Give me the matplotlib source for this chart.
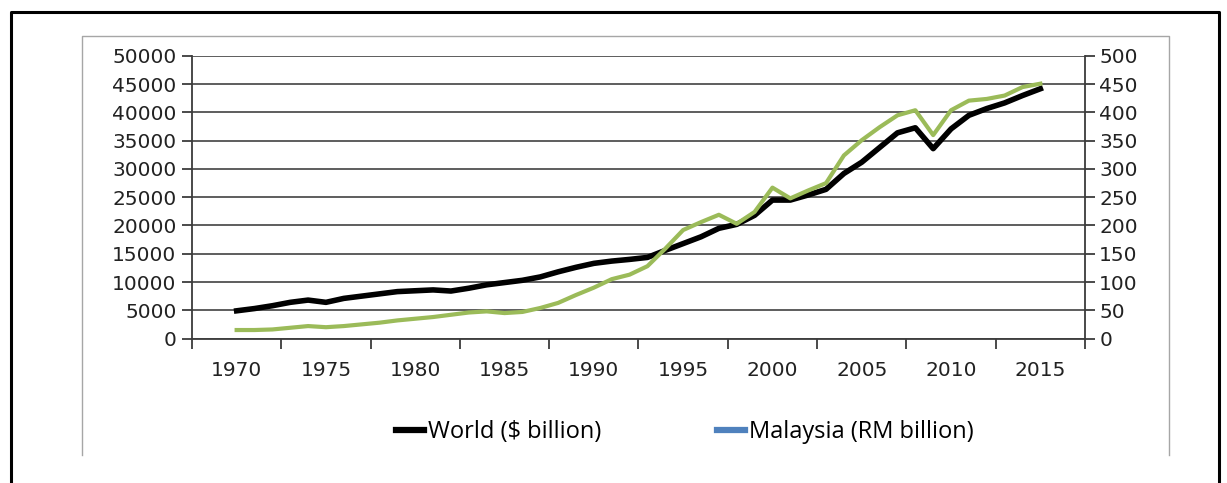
import matplotlib.pyplot as plt
from matplotlib.lines import Line2D
from matplotlib.ticker import FixedLocator, NullFormatter

# GDP, 1970-2015: world in $ billion (left axis), Malaysia in RM billion (right axis)
years = list(range(1970, 2016))

world = [4900, 5300, 5800, 6400, 6800, 6400, 7100, 7500, 7900, 8300,
         8450, 8600, 8400, 8900, 9500, 9900, 10300, 10900, 11800, 12600,
         13300, 13700, 14000, 14350, 15600, 16800, 18000, 19500, 20200, 21800,
         24500, 24500, 25400, 26400, 29200, 31200, 33800, 36400, 37300, 33600,
         37100, 39500, 40700, 41700, 43000, 44200]

malaysia = [15, 15, 16, 19, 22, 20, 22, 25, 28, 32,
            35, 38, 42, 46, 48, 45, 47, 54, 63, 77,
            90, 105, 113, 128, 159, 192, 206, 219, 203, 224,
            267, 248, 262, 275, 324, 351, 374, 395, 404, 360,
            404, 421, 424, 430, 445, 451]

label_years = [1970, 1975, 1980, 1985, 1990, 1995, 2000, 2005, 2010, 2015]

W, H = 1227, 483
fig = plt.figure(figsize=(W / 100, H / 100), dpi=100)


def fx(px):
    return px / W


def fy(py):
    return (H - py) / H


ax = fig.add_axes([fx(192), fy(338.5), fx(1085) - fx(192), fy(56) - fy(338.5)])
ax2 = ax.twinx()

axis_col = "#3c3c3c"
grid_col = "#505050"
fs = 14.5

ax.plot(years, world, color="black", lw=4.0, solid_joinstyle="round")
ax2.plot(years, malaysia, color="#9BBB59", lw=3.0, solid_joinstyle="round")

ax.set_xlim(1967.5, 2017.5)
ax.set_ylim(0, 50000)
ax2.set_ylim(0, 500)
ax.set_yticks(range(0, 50001, 5000))
ax2.set_yticks(range(0, 501, 50))

# tick marks sit between the year groups, labels centred on the years
ax.xaxis.set_major_locator(FixedLocator([1967.5 + 5 * i for i in range(11)]))
ax.xaxis.set_major_formatter(NullFormatter())
ax.xaxis.set_minor_locator(FixedLocator(label_years))
ax.set_xticklabels([str(y) for y in label_years], minor=True)

ax.grid(axis="y", color=grid_col, lw=1.3)
ax.set_axisbelow(True)

for a in (ax, ax2):
    a.spines["top"].set_visible(False)
    for s in a.spines.values():
        s.set_color(axis_col)
        s.set_linewidth(1.3)
ax.spines["right"].set_visible(False)
ax2.spines["left"].set_visible(False)
ax2.spines["bottom"].set_visible(False)

ax.tick_params(axis="y", which="major", direction="out", length=7.2, width=1.3,
               color=axis_col, labelsize=fs, labelcolor="#222222", pad=4)
ax.tick_params(axis="x", which="major", direction="out", length=7.2, width=1.3,
               color=axis_col)
ax.tick_params(axis="x", which="minor", length=0, labelsize=fs,
               labelcolor="#222222", pad=16)
ax2.tick_params(axis="y", direction="out", length=7.2, width=1.3,
                color=axis_col, labelsize=fs, labelcolor="#222222", pad=3)

# legend (the Malaysia key keeps its blue swatch)
handles = [Line2D([0], [0], color="black", lw=4.5),
           Line2D([0], [0], color="#4F81BD", lw=4.5)]
fig.legend(handles, ["World ($ billion)", "Malaysia (RM billion)"],
           loc="center", bbox_to_anchor=(fx(684.5), fy(432)), ncol=2,
           frameon=False, handlelength=1.18, handletextpad=0.17,
           columnspacing=4.9,
           prop={"family": "Open Sans", "size": 17})

# chart area border (grey) and outer box (black)
fig.add_artist(Line2D([fx(82), fx(82), fx(1169), fx(1169)],
                      [fy(455), fy(35.5), fy(35.5), fy(455)],
                      color="#a6a6a6", lw=1.0, transform=fig.transFigure))
fig.add_artist(Line2D([fx(11), fx(11), fx(1219), fx(1219)],
                      [fy(483), fy(12), fy(12), fy(483)],
                      color="black", lw=2.2, transform=fig.transFigure))

fig.savefig("out.png", dpi=100)
